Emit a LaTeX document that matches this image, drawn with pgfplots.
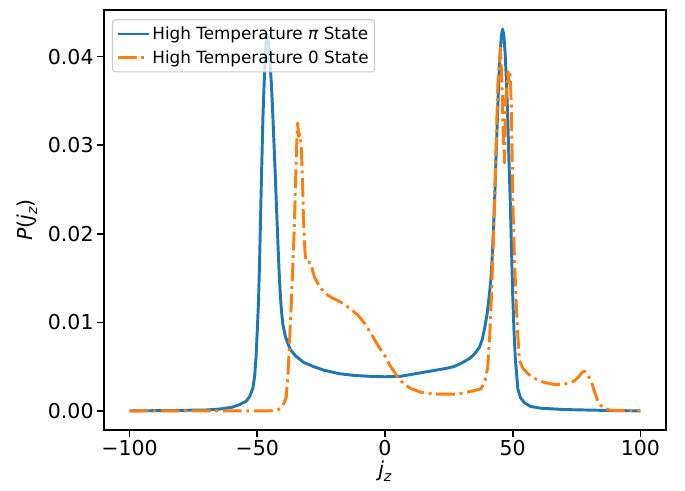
\documentclass[border=0pt]{standalone}
\usepackage{fontspec}
\setmainfont{DejaVu Sans}
\usepackage{pgfplots}
\pgfplotsset{compat=1.18}

\definecolor{mplblue}{HTML}{1F77B4}
\definecolor{mplorange}{HTML}{FF7F0E}

\newcommand{\tickfont}{\fontsize{20.5}{24}\selectfont}
\newcommand{\legfont}{\fontsize{16.8}{20}\selectfont}

\begin{document}
\begin{tikzpicture}
\begin{axis}[
    scale only axis,
    width=562pt, height=420pt,
    xmin=-110, xmax=110,
    ymin=-0.00216, ymax=0.04526,
    axis line style={line width=1.57pt},
    tick align=outside,
    xtick pos=left, ytick pos=left,
    major tick length=6.9pt,
    every tick/.style={black, line width=1.57pt},
    xtick={-100,-50,0,50,100},
    xticklabels={−100,−50,0,50,100},
    ytick={0,0.01,0.02,0.03,0.04},
    yticklabels={0.00,0.01,0.02,0.03,0.04},
    scaled y ticks=false,
    ticklabel style={font=\tickfont},
    xlabel={\textit{j}\raisebox{-0.22em}{\fontsize{14.3}{15}\selectfont\textit{z}}},
    ylabel={\textit{P}(\textit{j}\raisebox{-0.22em}{\fontsize{14.3}{15}\selectfont\textit{z}})},
    label style={font=\tickfont},
    xlabel style={at={(axis description cs:0.5,-0.098)}, anchor=center},
    ylabel style={at={(axis description cs:-0.137,0.5)}, anchor=center},
    legend image code/.code={\draw[#1, line width=2.94pt] (0pt,0pt) -- (31pt,0pt);},
    legend cell align=left,
    legend style={
        at={(0.014,0.978)}, anchor=north west,
        font=\legfont,
        draw=black!20, line width=1.2pt,
        fill=white, fill opacity=0.8, text opacity=1,
        rounded corners=3pt,
        inner xsep=4pt, inner ysep=5pt,
        row sep=5.5pt,
    },
]
\addplot[mplblue, line width=2.94pt, line join=round] coordinates {
(-100,0) (-85,0.00003) (-75,0.00008) (-70,0.0001) (-65,0.0002) (-60,0.0004)
(-57,0.0007) (-54.3,0.0011) (-53,0.0016) (-51.7,0.0026) (-51,0.0040)
(-50.5,0.0060) (-50,0.0090) (-49.5,0.0125) (-49,0.0180) (-48.7,0.0220)
(-48.3,0.0270) (-47.8,0.0330) (-47.2,0.0378) (-46.6,0.0415) (-46,0.0425)
(-45.5,0.0412) (-45,0.0392) (-44.5,0.0370) (-44,0.0340) (-43.5,0.0305)
(-43,0.0270) (-42.5,0.0232) (-42,0.0195) (-41.5,0.0160) (-41,0.0132)
(-40.5,0.0112) (-40,0.0098) (-39,0.0084) (-38,0.0076) (-37,0.0069)
(-35,0.0062) (-32,0.0055) (-28,0.0050) (-24,0.0046) (-18,0.0042)
(-12,0.0040) (-6,0.0039) (0,0.00385) (6,0.0039) (12,0.0042) (18,0.0045)
(24,0.0048) (27,0.0050) (30,0.0054) (33,0.0059) (35,0.0064) (37,0.0072)
(38,0.0080) (39,0.0093) (40,0.0110) (41,0.0135) (41.5,0.0150) (42,0.0175)
(42.6,0.0215) (43,0.0245) (43.5,0.0290) (44,0.0330) (44.5,0.0370)
(45,0.0400) (45.5,0.0422) (46,0.0431) (46.5,0.0425) (47,0.0405)
(47.5,0.0375) (48,0.0335) (48.5,0.0285) (49,0.0240) (49.5,0.0185)
(50,0.0130) (50.5,0.0090) (51,0.0060) (52,0.0025) (53,0.0015)
(54.6,0.0009) (57,0.0005) (61,0.0003) (70,0.00015) (78,0.0001)
(90,0.00003) (100,0)
};
\addlegendentry{High Temperature \textit{π} State}
\addplot[mplorange, line width=2.94pt, line join=round,
    dash pattern=on 18.8pt off 4.7pt on 2.9pt off 4.7pt] coordinates {
(-100,0) (-60,0) (-45,0) (-42,0.0001) (-41,0.0003) (-40.5,0.0005)
(-39.5,0.0009) (-38.7,0.0015) (-38,0.0040) (-37.4,0.0076) (-36.7,0.0120)
(-36.1,0.0162) (-35.6,0.0200) (-35.2,0.0238) (-34.7,0.0290) (-34.2,0.0325)
(-33.8,0.0310) (-33.3,0.0312) (-32.8,0.0300) (-32.3,0.0260) (-31.9,0.0215)
(-31.5,0.0190) (-31.1,0.0170) (-30.8,0.0168) (-30,0.0168) (-29,0.0167)
(-28.5,0.0160) (-27.6,0.0151) (-26.5,0.0145) (-25,0.0138) (-23,0.0132)
(-21,0.0128) (-18,0.0124) (-15.9,0.0120) (-13,0.0114) (-10.6,0.0108)
(-8,0.0099) (-5.4,0.0087) (-3,0.0075) (0,0.0062) (2,0.0051) (5,0.0038)
(7.5,0.0030) (10.3,0.0025) (14,0.0021) (19.4,0.0019) (25,0.0019)
(28.5,0.0019) (32,0.0021) (35,0.0023) (37.6,0.0025) (39,0.0032)
(40.2,0.0049) (41,0.0085) (41.6,0.0125) (42.3,0.0180) (42.9,0.0238)
(43.5,0.0300) (44.2,0.0370) (45.2,0.0410) (45.8,0.0370) (46.3,0.0310)
(46.8,0.0280) (47.2,0.0350) (47.6,0.0360) (48.1,0.0383) (48.6,0.0370)
(49,0.0380) (49.5,0.0340) (50,0.0240) (50.6,0.0180) (51.3,0.0125)
(52,0.0085) (52.6,0.0057) (54,0.0048) (55.9,0.0042) (59,0.0036)
(62.4,0.0032) (66,0.0030) (69,0.0030) (72,0.0031) (74.2,0.0034)
(76,0.0039) (77,0.0043) (78.1,0.0045) (79.2,0.0041) (80.7,0.0034)
(82,0.0022) (83.3,0.0011) (84.5,0.0006) (85.9,0.0003) (88,0.0001)
(91,0.00003) (100,0)
};
\addlegendentry{High Temperature 0 State}
\end{axis}
\path ([xshift=-104pt,yshift=-60pt]current axis.south west) rectangle ([xshift=19pt,yshift=10pt]current axis.north east);
\end{tikzpicture}
\end{document}
